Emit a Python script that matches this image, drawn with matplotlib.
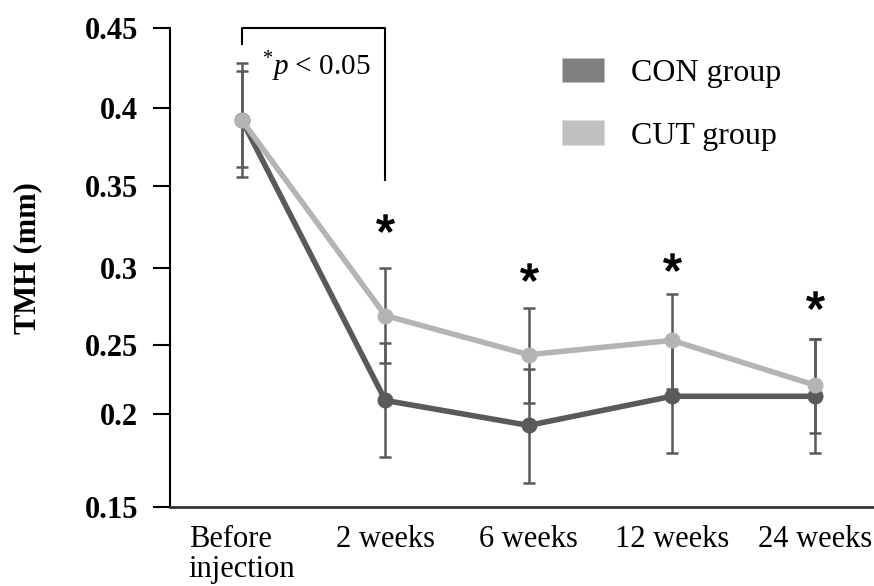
import numpy as np
import matplotlib.pyplot as plt
from matplotlib.patches import Patch

plt.rcParams['font.family'] = ['Liberation Serif', 'DejaVu Serif']
plt.rcParams['mathtext.fontset'] = 'custom'
plt.rcParams['mathtext.rm'] = 'Liberation Serif'
plt.rcParams['mathtext.it'] = 'Liberation Serif:italic'
plt.rcParams['mathtext.sf'] = 'Liberation Sans'

labels = ["Before\ninjection", "2 weeks", "6 weeks", "12 weeks", "24 weeks"]
x = np.arange(len(labels))

con_mean = [0.392, 0.210, 0.194, 0.213, 0.213]
con_lo = [0.036, 0.033, 0.031, 0.034, 0.034]
con_hi = [0.036, 0.041, 0.039, 0.040, 0.041]

cut_mean = [0.392, 0.269, 0.243, 0.253, 0.221]
cut_lo = [0.030, 0.032, 0.035, 0.035, 0.031]
cut_hi = [0.031, 0.031, 0.031, 0.030, 0.033]

star_y = [0.3274, 0.2972, 0.3035, 0.2791]

yticks = [0.15, 0.2, 0.25, 0.3, 0.35, 0.4, 0.45]
ytick_labels = ["0.15", "0.2", "0.25", "0.3", "0.35", "0.4", "0.45"]
# the source axis is not evenly spaced; tick heights above 0.15 in pixels
tick_h = [0, 92.4, 161.7, 239, 320.7, 398.7, 478.2]


def fwd(v):
    return np.interp(v, yticks, tick_h)


def inv(h):
    return np.interp(h, tick_h, yticks)


con_c = "#5a5a5a"
cut_c = "#b4b4b4"
err_c = "#595959"

fig = plt.figure(figsize=(8.74, 5.86), dpi=100)
ax = fig.add_axes([170 / 874, 79.3 / 586, 704 / 874, 478.2 / 586])
ax.set_yscale("function", functions=(fwd, inv))

ax.errorbar(x, con_mean, yerr=[con_lo, con_hi], fmt="none", ecolor=err_c,
            elinewidth=1.8, capsize=4.5, capthick=1.8, zorder=1)
ax.errorbar(x, cut_mean, yerr=[cut_lo, cut_hi], fmt="none", ecolor=err_c,
            elinewidth=1.8, capsize=4.5, capthick=1.8, zorder=1)
ax.plot(x, con_mean, color=con_c, lw=4, marker="o", ms=10.5, zorder=2)
ax.plot(x, cut_mean, color=cut_c, lw=4, marker="o", ms=10.5, zorder=3)

ax.plot(x[1:], star_y, ls="none", marker=r"$\mathsf{*}$", ms=12.5, color="black")

# significance bracket
ax.plot([0, 0, 1, 1], [0.4405, 0.45, 0.45, 0.354], color="black", lw=1.5,
        clip_on=False)
ax.text(0.14, 0.4208, r"$^{*}\mathit{p}$ < 0.05", fontsize=21, va="baseline")

ax.set_xlim(-0.503, 4.41)
ax.set_ylim(0.15, 0.45)
ax.set_xticks(x)
ax.set_xticklabels(labels, fontsize=22, multialignment="left", linespacing=1.05)
ax.set_yticks(yticks)
ax.set_yticklabels(ytick_labels, fontsize=22, fontweight="bold")
ax.tick_params(axis="x", length=0, pad=13)
ax.tick_params(axis="y", length=12, width=1.5, pad=11)
ax.set_ylabel("TMH (mm)", fontsize=22, fontweight="bold")
ax.yaxis.set_label_coords(-0.182, 0.52)

for s in ["top", "right"]:
    ax.spines[s].set_visible(False)
ax.spines["left"].set_linewidth(1.5)
ax.spines["bottom"].set_linewidth(2)
ax.spines["bottom"].set_color("#333333")

handles = [Patch(facecolor="#808080", edgecolor="#bbbbbb", lw=0.5, label="CON group"),
           Patch(facecolor="#c0c0c0", edgecolor="#dddddd", lw=0.5, label="CUT group")]
ax.legend(handles=handles, loc="upper left", bbox_to_anchor=(562 / 874, 1 - 58 / 586),
          bbox_transform=fig.transFigure, frameon=False, fontsize=23, borderpad=0,
          borderaxespad=0, handlelength=1.3, handleheight=0.8, handletextpad=0.85,
          labelspacing=1.0)

fig.savefig("out.png", dpi=100)
